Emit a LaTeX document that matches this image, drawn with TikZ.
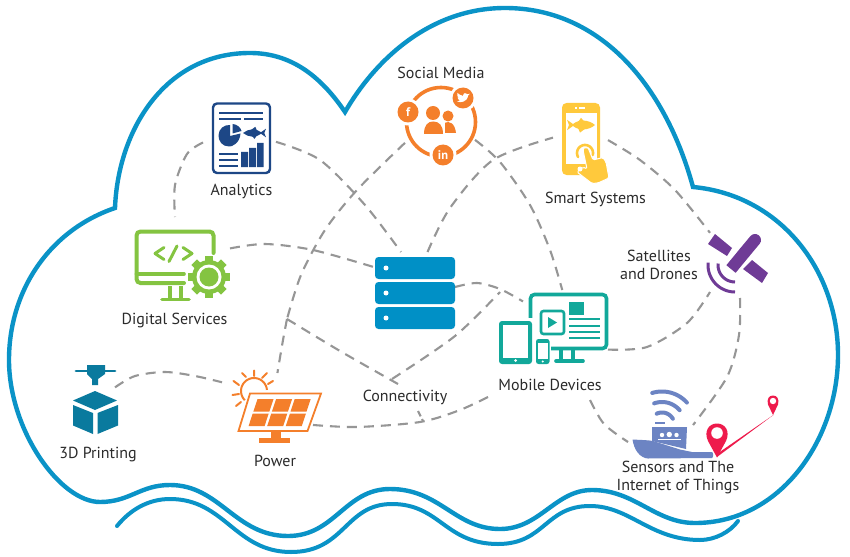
\documentclass[tikz,border=0pt]{standalone}
\usepackage{fontspec}
\setmainfont{PT Sans}
\definecolor{cloudblue}{HTML}{0A93C7}
\definecolor{navy}{HTML}{1D4786}
\definecolor{leaf}{HTML}{84C441}
\definecolor{tang}{HTML}{F47F2B}
\definecolor{sun}{HTML}{FFC93C}
\definecolor{serverblue}{HTML}{0090C6}
\definecolor{teal}{HTML}{12A89A}
\definecolor{plum}{HTML}{6F3B96}
\definecolor{shipblue}{HTML}{6C84C3}
\definecolor{crimson}{HTML}{EE1B4C}
\definecolor{petrol}{HTML}{0A7A9E}
\definecolor{dashgray}{HTML}{969696}
\definecolor{ink}{HTML}{2B2B2B}
\tikzset{
  box/.style={inner sep=0pt,outer sep=0pt},
  lab/.style={inner sep=0pt,outer sep=0pt,text=ink,font=\fontsize{16}{18}\selectfont,align=center},
  conn/.style={draw=dashgray,line width=2.1pt,dash pattern=on 10pt off 7pt},
  rim/.style={draw=cloudblue,line width=4.4pt},
  badge/.style={inner sep=0pt,text=white,font=\fontsize{12.5}{13}\selectfont\bfseries},
}
\newcommand{\pxarc}[6][]{\draw[#1] plot[domain=#5:#6,samples=24,smooth] ({#2+#4*cos(\x)},{#3+#4*sin(\x)});}
\newcommand{\fishicon}[4]{%
 \begin{scope}[shift={(#1,#2)},xscale=#3,yscale=#3*0.95]
 \fill[#4] (-14,0) .. controls (-8,-5.5) and (2,-6.5) .. (8,-1) -- (14,-5.5) -- (12,0) -- (14,5.5) -- (8,1) .. controls (2,6.5) and (-8,5.5) .. (-14,0) -- cycle;
 \fill[#4] (-4,-4) -- (1,-8) -- (3,-3) -- cycle;
 \fill[#4] (-3,4) -- (0,7.5) -- (3,3) -- cycle;
 \end{scope}}
\begin{document}
\begin{tikzpicture}[x=1pt,y=-1pt]
\useasboundingbox (0,0) rectangle (850,556);
\fill[white] (0,0) rectangle (850,556);

% cloud and wave
\draw[rim,line join=miter]
 (345,112) .. controls (375,60) and (430,8) .. (505,8)
 .. controls (600,8) and (665,85) .. (693,187)
 .. controls (780,195) and (838,270) .. (838,355)
 .. controls (838,440) and (780,523) .. (695,523)
 .. controls (655,523) and (635,490) .. (592,490)
 .. controls (555,490) and (540,529) .. (500,529)
 .. controls (455,529) and (440,489) .. (390,489)
 .. controls (345,489) and (335,536) .. (288,536)
 .. controls (235,536) and (220,485) .. (170,485)
 .. controls (140,485) and (130,502) .. (100,502)
 .. controls (60,502) and (9,430) .. (9,360)
 .. controls (9,290) and (50,230) .. (115,208)
 .. controls (118,130) and (165,53) .. (250,53)
 .. controls (290,53) and (320,75) .. (345,112) -- cycle;
\draw[rim,line width=4pt,line cap=round]
 (117,526) .. controls (130,510) and (148,499) .. (170,499)
 .. controls (225,499) and (235,552) .. (291,552)
 .. controls (345,552) and (345,504) .. (392,504)
 .. controls (440,504) and (445,544) .. (498,544)
 .. controls (545,544) and (545,506) .. (590,506)
 .. controls (630,506) and (650,540) .. (700,540)
 .. controls (715,540) and (730,532) .. (738,521);

% icon frames
\node[box,minimum width=73pt,minimum height=72pt] (analytics) at (239.5,138) {};
\node[box,minimum width=96pt,minimum height=85pt] (digital) at (182,259.5) {};
\node[box,minimum width=70pt,minimum height=80pt] (social) at (440,125) {};
\node[box,minimum width=55pt,minimum height=80pt] (smart) at (580.5,143) {};
\node[box,minimum width=80pt,minimum height=77pt] (server) at (415,290.5) {};
\node[box,minimum width=85pt,minimum height=74pt] (mobile) at (565.5,327) {};
\node[box,minimum width=60pt,minimum height=66pt] (satellite) at (740,265) {};
\node[box,minimum width=85pt,minimum height=34pt] (ship) at (670.5,442) {};
\node[box,minimum width=91pt,minimum height=69pt] (power) at (267.5,407.5) {};
\node[box,minimum width=42pt,minimum height=69pt] (printer) at (94,399.5) {};

% labels
\node[lab] (lsocial) at (441,73) {Social Media};
\node[lab] (lanalytics) at (241.5,191.5) {Analytics};
\node[lab] (lsmart) at (595.5,199.5) {Smart Systems};
\node[lab] (ldigital) at (174.5,320.5) {Digital Services};
\node[lab] (lsat) at (659,264.5) {Satellites\\and Drones};
\node[lab] (lconn) at (405,397.5) {Connectivity};
\node[lab] (lmobile) at (550,384.5) {Mobile Devices};
\node[lab] (lprint) at (98,454.5) {3D Printing};
\node[lab] (lpower) at (275,461) {Power};
\node[lab] (lsensors) at (678,477.5) {Sensors and The\\Internet of Things};

% junctions and free ends
\coordinate (jleft) at (287,319);
\coordinate (jconnA) at (398,384);
\coordinate (jconnB) at (392,379);
\coordinate (jright) at (500,292);
\coordinate (jlowA) at (418,411);
\coordinate (jlowB) at (423,421);
\coordinate (mobSW) at (494,394);
\coordinate (mobS) at (590,400);

% connectors
\draw[conn] plot[smooth] coordinates {(analytics.187.8) (187,154) (175,185) (175,217)};
\draw[conn] plot[smooth] coordinates {(analytics.-6.3) (320,160) (365,205) (server.110)};
\draw[conn] plot[smooth] coordinates {(digital.13.5) (265,244) (313,250) (server.150.6)};
\draw[conn] plot[smooth] coordinates {(social.207.2) (357,190) (325,230) (301,275) (jleft)};
\draw[conn] plot[smooth] coordinates {(jleft) (283,340) (power.74.6)};
\draw[conn] plot[smooth] coordinates {(jleft) (340,351) (jconnA)};
\draw[conn] plot[smooth] coordinates {(jconnB) (455,336) (jright)};
\draw[conn] plot[smooth] coordinates {(server.5) (477,283) (500,289) (mobile.149.5)};
\draw[conn] plot[smooth] coordinates {(server.72.7) (450,208) (493,160) (smart.169.7)};
\draw[conn] plot[smooth] coordinates {(social.-23.2) (500,162) (530,205) (550,250) (mobile.95.4)};
\draw[conn] plot[smooth] coordinates {(smart.6.2) (640,160) (675,190) (satellite.133.2)};
\draw[conn] plot[smooth] coordinates {(mobile.-28.4) (647,347) (687,323) (satellite.222)};
\draw[conn] plot[smooth] coordinates {(satellite.south) (739,335) (727,377) (ship.37)};
\draw[conn] plot[smooth] coordinates {(mobS) (604,424) (ship.west)};
\draw[conn] plot[smooth] coordinates {(printer.30.8) (135,376) (165,372) (195,376) (power.151.7)};
\draw[conn] plot[smooth] coordinates {(power.-21) (357,427) (420,422) (460,410) (mobSW)};
\draw[conn,dash pattern=on 6pt off 3pt] (jlowA) -- (jlowB);

% Analytics
\draw[navy,line width=2.4pt,fill=white,rounded corners=4pt] (213,103.5) rectangle (270,173);
\foreach \yy in {113} \draw[navy,line width=1.7pt] (219,\yy) -- (263,\yy);
\draw[navy,line width=1.7pt] (219,119) -- (240.5,119) (244,119) -- (263,119);
\foreach \yy in {154,160,166} \draw[navy,line width=1.7pt] (219,\yy) -- (238,\yy);
\fill[navy] (241,152) rectangle (248,167) (249,148) rectangle (256,167) (257,143) rectangle (263.5,167);
\fill[navy] (230,125) -- (230,136) -- (240.5,133.5) .. controls (240,143) and (232,147) .. (229,146.5) .. controls (222,146.5) and (218.5,141) .. (218.5,135.5) .. controls (218.5,129) and (224,124.5) .. (230,125) -- cycle;
\fill[navy] (232.5,124) .. controls (237,124) and (241,128) .. (241.5,131) -- (232.5,133.5) -- cycle;
\fishicon{254.5}{133}{0.82}{navy}

% Digital services
\draw[leaf,line width=4pt,line cap=round,rounded corners=4pt] (213.5,253) -- (213.5,231.5) -- (136.5,231.5) -- (136.5,283) -- (184,283);
\draw[leaf,line width=3.6pt,line cap=round] (136.5,274) -- (184,274);
\draw[leaf,line width=3.6pt] (170,286) -- (170,298) (181,286) -- (181,298);
\draw[leaf,line width=3.6pt,line cap=round] (162,299.5) -- (189,299.5);
\draw[leaf,line width=3pt,line cap=round,line join=round] (164,247.5) -- (155,253.5) -- (164,259.5);
\draw[leaf,line width=3pt,line cap=round] (177,246) -- (169,261.5);
\draw[leaf,line width=3pt,line cap=round,line join=round] (183,247.5) -- (192,253.5) -- (183,259.5);
\begin{scope}[shift={(209,277)}]
 \foreach \a in {0,45,...,315} { \begin{scope}[rotate=\a] \fill[leaf] (-4,-21) rectangle (4,-10); \end{scope} }
 \fill[leaf] (0,0) circle[radius=17pt];
 \fill[white] (0,0) circle[radius=12.5pt];
 \fill[leaf] (0,0) circle[radius=9.5pt];
\end{scope}

% Social media
\draw[tang,line width=3.6pt] (441,122) circle[radius=34.5pt];
\foreach \cx/\cy in {408/112,463/98,443/155} {
 \fill[white] (\cx,\cy) circle[radius=13.5pt];
 \fill[tang] (\cx,\cy) circle[radius=10.5pt];
}
\node[badge] (bf) at (408,112.5) {f};
\node[badge] (bin) at (443,155.5) {in};
\begin{scope}[shift={(463,98)},scale=.85]
 \fill[white] (-7,4) .. controls (-3,6) and (5,5) .. (6,-3) -- (8,-5) -- (5.5,-4.5) .. controls (4,-7) and (0,-6) .. (0,-2.5) .. controls (-3,-3) and (-5,-4.5) .. (-6.5,-6) .. controls (-7.5,-3) and (-6,-1) .. (-5,0) -- (-6.5,-0.5) .. controls (-6,2) and (-4,2.5) .. (-3.5,3) .. controls (-4.5,4) and (-6,4) .. (-7,4) -- cycle;
\end{scope}
\fill[tang] (433,113) circle[radius=7pt];
\fill[tang] (448,116) circle[radius=5.5pt];
\fill[tang] (444,123) .. controls (450,120) and (455,124) .. (456,133) -- (444,133) -- cycle;
\fill[white] (442,122) rectangle (445,135);
\fill[tang] (424,134) .. controls (424,125) and (428,121.5) .. (433,121.5) .. controls (439,121.5) and (443,125) .. (443,134) -- cycle;

% Smart systems
\fill[sun,rounded corners=4.5pt] (562,103) rectangle (600,175);
\fill[white] (565.5,113.5) rectangle (597,164.5);
\fill[white] (575,107.5) rectangle (577,109);
\fill[white] (578.5,107.5) rectangle (585,109);
\fishicon{581}{125}{-1}{sun}
\pxarc[sun,line width=2.6pt,line cap=round]{585}{153}{8}{150}{375}
\fill[sun,draw=white,line width=1pt,line join=round,rounded corners=1.5pt] (583,150) .. controls (584,147.5) and (588,147.5) .. (589,150) -- (593,160) -- (603,157.5) -- (606,162) -- (609,178) -- (598,183) -- (592,183.5) -- (577,172) -- (583,167) -- (587,169) -- cycle;
\fill[white] (580,169) circle[radius=2.5pt];

% Server
\foreach \yy in {257,282,307} {
 \fill[serverblue,rounded corners=3.5pt] (375,\yy) rectangle (455,\yy+22);
 \fill[white] (386,\yy+11) circle[radius=2.5pt];
}

% Mobile devices
\draw[teal,line width=3.6pt,rounded corners=4pt] (530.5,294.5) rectangle (606.5,348.5);
\draw[teal,line width=3.2pt] (561,349) -- (561,359) (573,349) -- (573,359);
\draw[teal,line width=3.6pt,line cap=round] (556,361) -- (583,361);
\draw[teal,line width=2.6pt,rounded corners=2.5pt] (541,311) rectangle (564,334);
\fill[teal] (548,317) -- (557,322.5) -- (548,328) -- cycle;
\fill[teal] (569,302) rectangle (584,315);
\foreach \yy in {319,326,332,338} \draw[teal,line width=1.8pt] (569,\yy) -- (600,\yy);
\fill[white] (527,318) rectangle (534,366);
\fill[teal,rounded corners=3pt] (499,321) rectangle (532,364);
\fill[white] (503,325) rectangle (528,357.5);
\fill[white] (515.5,360.5) circle[radius=1.5pt];
\fill[white] (534,337) rectangle (551,366);
\fill[teal,rounded corners=2.5pt] (536,339) rectangle (549.5,364);
\fill[white] (538,343) rectangle (547.5,358.5);
\fill[white] (542.7,361.5) circle[radius=1.2pt];

% Satellite
\draw[plum,line width=12pt,line cap=round] (755,240) -- (745,252);
\draw[plum,line width=12pt] (745,252) -- (731,269);
\fill[plum] (715,234) -- (732,248) -- (727,256) -- (708,244) -- cycle;
\fill[plum] (752,260) -- (768,273) -- (762,283) -- (743,269) -- cycle;
\pxarc[plum,line width=3pt]{735}{265}{17}{90}{185}
\pxarc[plum,line width=3pt]{735}{265}{27}{90}{185}

% Ship
\fill[shipblue] (632.5,439.5) .. controls (640,440) and (648,440) .. (653,441) -- (680,449.5) -- (692,452) -- (712,452) .. controls (713.5,452) and (713.5,458) .. (712,458) -- (648,458.5) .. controls (640,458) and (634,450) .. (632.5,439.5) -- cycle;
\fill[shipblue] (652,427) -- (687,427) -- (686,449) -- (652,441) -- cycle;
\fill[white] (662,435) circle[radius=2.2pt] (669.3,434.5) circle[radius=2.7pt] (676.5,435) circle[radius=2.2pt];
\fill[white] (658,438.5) rectangle (681,439.5);
\draw[shipblue,line width=2.6pt] (655,423) -- (665,423);
\pxarc[shipblue,line width=4pt,line cap=round]{662}{425}{33.5}{-107}{-42}
\pxarc[shipblue,line width=4pt,line cap=round]{662}{425}{23}{-110}{-40}
\pxarc[shipblue,line width=4pt,line cap=round]{662}{425}{12.5}{-115}{-30}

% Pins
\fill[crimson] (717,457) -- (774,414.5) -- (717.5,453.5) -- cycle;
\fill[crimson] (717,457.5) -- (708,441) .. controls (703.5,431) and (709,423.5) .. (717,423.5) .. controls (725,423.5) and (730.5,431) .. (726,441) -- cycle;
\fill[white] (717,433) circle[radius=5.8pt];
\fill[crimson] (773,415) -- (768,404.5) .. controls (766.5,399) and (769,395.5) .. (773,395.5) .. controls (777,395.5) and (779.5,399) .. (778,404.5) -- cycle;
\fill[white] (773,401) circle[radius=3.2pt];

% 3D printer
\draw[petrol,line width=2.8pt,line cap=round] (76,371) -- (115,371);
\fill[petrol] (87,365) -- (105,365) -- (105,374) -- (98,379) -- (98,385) -- (92,385) -- (92,379) -- (87,374) -- cycle;
\fill[petrol] (95,391) -- (117,400.5) -- (95,410) -- (73,400.5) -- cycle;
\fill[petrol] (73,405) -- (93,413) -- (93,434) -- (73,425.5) -- cycle;
\fill[petrol] (97.5,413) -- (118,405) -- (118,425.5) -- (97.5,434) -- cycle;

% Power
\draw[tang,line width=2pt,line cap=round]
 (232.5,395) -- (239,394) (236,406) -- (241,402) (233.5,381) -- (239,385)
 (242,373) -- (246,377) (254,370.5) -- (254,376) (262,378) -- (267,373) (268,384) -- (273,381);
\pxarc[tang,line width=2pt]{254}{391}{13}{-5}{-225}
\fill[white] (250,393) -- (322,393) -- (308,431) -- (238,431) -- cycle;
\draw[tang,line width=1.8pt,line join=miter] (250,393.5) -- (321,393.5) -- (307.5,431) -- (238.5,431) -- cycle;
\foreach \k in {0,1,2} \foreach \r in {0,1} {
 \pgfmathsetmacro{\ya}{399+\r*14.5}
 \pgfmathsetmacro{\yb}{\ya+12.5}
 \pgfmathsetmacro{\xa}{257.5+\k*18.6-(\ya-399)*.33}
 \pgfmathsetmacro{\xb}{257.5+\k*18.6-(\yb-399)*.33}
 \fill[tang] (\xa,\ya) -- (\xa+16,\ya) -- (\xb+16,\yb) -- (\xb,\yb) -- cycle;
}
\fill[tang] (271,431) rectangle (281,438);
\fill[tang] (259,438) rectangle (290,442.5);
\end{tikzpicture}
\end{document}
